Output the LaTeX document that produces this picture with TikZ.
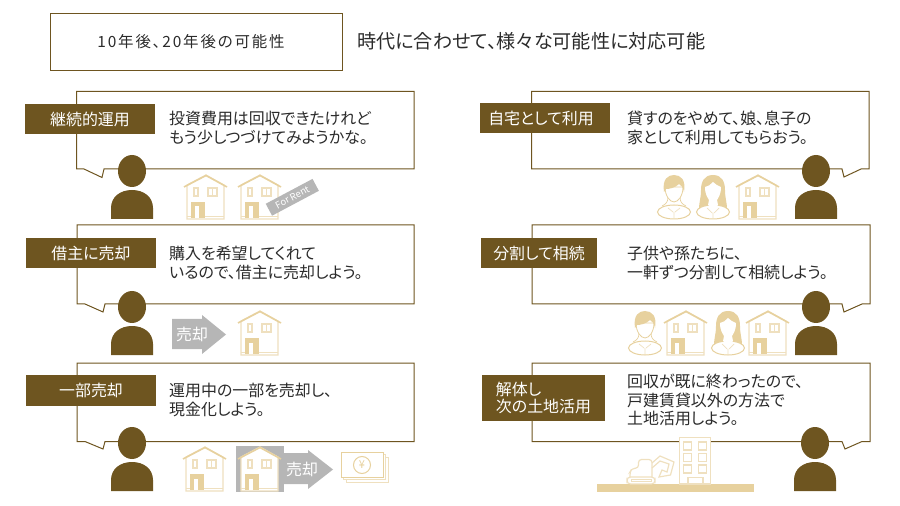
\documentclass[tikz,border=0pt]{standalone}
\usepackage{fontspec}
\setmainfont[RawFeature={+palt}]{Noto Sans CJK JP}

\definecolor{darkbrown}{HTML}{6E5520}
\definecolor{paletan}{HTML}{EFE0BF}
\definecolor{midtan}{HTML}{E7D19E}
\definecolor{signgrey}{HTML}{B6B6B6}
\definecolor{bodyink}{HTML}{2B2B2B}

\tikzset{
    bubbleline/.style={draw=darkbrown, line width=1bp, fill=white},
    tagbox/.style={fill=darkbrown, text=white, inner sep=0pt, font=\fontsize{16}{18}\selectfont},
    bodytext/.style={anchor=west, inner sep=0pt, align=left, text=bodyink, font=\fontsize{16}{18.7}\selectfont},
    selltext/.style={inner sep=0pt, text=white, font=\fontsize{16}{18}\selectfont},
    pics/person/.style={code={
        \fill[darkbrown] (0,16) ellipse [x radius=14, y radius=16];
        \fill[darkbrown] (-21,64) -- (-21,53) .. controls (-21,42) and (-12,35) .. (0,35)
            .. controls (12,35) and (21,42) .. (21,53) -- (21,64) -- cycle;
    }},
    pics/house/.style={code={
        \filldraw[fill=white, draw=paletan, line width=1.2bp] (-19,44) -- (-19,10) -- (0,0) -- (18,10) -- (18,44) -- cycle;
        \draw[paletan, line width=1bp] (-19,41.5) -- (18,41.5);
        \draw[midtan, line width=1.6bp] (-22,12) -- (0,0.5) -- (21,12);
        \fill[midtan] (-15,27) rectangle (-1,43);
        \fill[white] (-11.5,31.5) rectangle (-7.5,43);
        \draw[paletan, line width=1.2bp] (-12,13) rectangle (-8,21);
        \draw[paletan, line width=1.2bp] (2,13) rectangle (11,21) (6.5,13) -- (6.5,21);
    }},
    pics/man/.style={code={
        \filldraw[fill=white, draw=midtan, line width=1bp] (0,37) ellipse [x radius=16.5, y radius=7];
        \draw[midtan, line width=0.7bp] (-6,22) .. controls (-6,27) and (-8,29) .. (-12,31);
        \draw[midtan, line width=0.7bp] (6,22) .. controls (6,27) and (8,29) .. (12,31);
        \filldraw[fill=white, draw=midtan, line width=0.8bp] (-9,12) .. controls (-9,21) and (-4,27) .. (0,27)
            .. controls (4,27) and (9,21) .. (9,12) -- cycle;
        \fill[midtan] (-10,17) .. controls (-12,4) and (-6,0) .. (0,0) .. controls (7,0) and (12,5) .. (10,17)
            .. controls (9,12) and (7,10) .. (5,9) .. controls (1,13) and (-5,14) .. (-8,14) -- cycle;
        \draw[paletan, line width=0.7bp] (-6,33) -- (-1,37) (6,33) -- (1,37) (0,37) -- (0,43);
    }},
    pics/woman/.style={code={
        \fill[midtan] (0,0) .. controls (-9,0) and (-12,7) .. (-12,15) .. controls (-12,23) and (-14,28) .. (-14,33)
            -- (14,33) .. controls (14,28) and (12,23) .. (12,15) .. controls (12,7) and (9,0) .. (0,0) -- cycle;
        \filldraw[fill=white, draw=midtan, line width=1bp] (0,37) ellipse [x radius=16.5, y radius=7];
        \fill[white] (-8,12) .. controls (-8,20) and (-5,23) .. (-4,25) -- (-5,30) -- (0,35) -- (5,30) -- (4,25)
            .. controls (5,23) and (8,20) .. (8,12) .. controls (5,11) and (2,9) .. (0,7) .. controls (-2,10) and (-5,11) .. (-8,12) -- cycle;
        \draw[paletan, line width=0.7bp] (-6,33) -- (-1,38) (6,33) -- (1,38) (0,38) -- (0,43);
    }}
}

\begin{document}
\begin{tikzpicture}[x=1bp, y=-1bp]
    \useasboundingbox (0,0) rectangle (900,506);

    % Heading.
    \node[draw=darkbrown, line width=1bp, minimum width=291bp, minimum height=57bp, inner sep=0pt] (headbox) at (196.5,42.5) {};
    \node[inner sep=0pt, text=bodyink, font=\fontsize{15.5}{18}\selectfont\addfontfeature{LetterSpace=12}] (headtext) at (191,42) {10年後、20年後の可能性};
    \node[anchor=west, inner sep=0pt, text=bodyink, font=\fontsize{19.2}{22}\selectfont] (headnote) at (357,41) {時代に合わせて、様々な可能性に対応可能};

    % Bubbles on the left.
    \draw[bubbleline] (76.5,91.5) -- (414,91.5) -- (414,169) -- (104,169) -- (102,177.5) -- (84,169) -- (76.5,169) -- cycle;
    \draw[bubbleline] (77,225) -- (414,225) -- (414,304) -- (105,304) -- (103,312) -- (85,304) -- (77,304) -- cycle;
    \draw[bubbleline] (77,363) -- (414,363) -- (414,441.5) -- (105,441.5) -- (103,449) -- (85,441.5) -- (77,441.5) -- cycle;

    % Bubbles on the right.
    \draw[bubbleline] (531.5,91.5) -- (869,91.5) -- (869,169) -- (861,169) -- (844,177) -- (842,169) -- (531.5,169) -- cycle;
    \draw[bubbleline] (532,225) -- (870,225) -- (870,304) -- (862,304) -- (844,312) -- (842,304) -- (532,304) -- cycle;
    \draw[bubbleline] (532,363) -- (870,363) -- (870,441.5) -- (862,441.5) -- (845,449) -- (842,441.5) -- (532,441.5) -- cycle;

    % Tags.
    \node[tagbox, minimum width=130bp, minimum height=30bp] (tagkeep) at (90,119) {継続的運用};
    \node[tagbox, minimum width=130bp, minimum height=30bp] (tagtenant) at (91,253) {借主に売却};
    \node[tagbox, minimum width=130bp, minimum height=31bp] (tagpart) at (91,390.5) {一部売却};
    \node[tagbox, minimum width=130bp, minimum height=30bp] (taghome) at (545,118.5) {\hspace*{-8bp}自宅として利用};
    \node[tagbox, minimum width=116bp, minimum height=30bp] (tagsplit) at (539,253) {分割して相続};
    \node[tagbox, minimum width=123bp, minimum height=46bp, align=left] (tagclear) at (543.5,398) {解体し\\次の土地活用};

    % Words in the bubbles.
    \node[bodytext] (textkeep) at (169,128) {投資費用は回収できたけれど\\もう少しつづけてみようかな。};
    \node[bodytext] (texttenant) at (169,263) {購入を希望してくれて\\いるので、借主に売却しよう。};
    \node[bodytext] (textpart) at (169,400) {運用中の一部を売却し、\\現金化しよう。};
    \node[bodytext] (texthome) at (627,128) {貸すのをやめて、娘、息子の\\家として利用してもらおう。};
    \node[bodytext] (textsplit) at (627,263) {子供や孫たちに、\\一軒ずつ分割して相続しよう。};
    \node[bodytext] (textclear) at (627,400) {回収が既に終わったので、\\戸建賃貸以外の方法で\\土地活用しよう。};

    % People who speak.
    \pic at (132,155) {person};
    \pic at (132,291) {person};
    \pic at (132,427) {person};
    \pic at (816,155) {person};
    \pic at (816,291) {person};
    \pic at (815,427) {person};

    % Keep renting.
    \pic at (206,175) {house};
    \pic at (260,175) {house};
    \node[rotate=28, fill=signgrey, text=white, inner sep=0pt, minimum width=53bp, minimum height=13.5bp, font=\fontsize{9.5}{10}\selectfont] (forrent) at (292.3,197.3) {For Rent};

    % Sell to the tenant.
    \fill[signgrey] (172,319) -- (202,319) -- (202,315) -- (226,334.5) -- (202,354) -- (202,349) -- (172,349) -- cycle;
    \node[selltext] (sellone) at (192,334) {売却};
    \pic at (260,311) {house};

    % Sell a part.
    \pic at (205,447) {house};
    \fill[signgrey] (236,446) rectangle (284,492);
    \pic at (260,447) {house};
    \fill[signgrey] (284,453) -- (308,453) -- (308,450) -- (333,469.5) -- (308,489) -- (308,484) -- (284,484) -- cycle;
    \node[selltext] (selltwo) at (302,469) {売却};
    \filldraw[fill=white, draw=paletan, line width=1bp] (346,457) rectangle (388,482);
    \filldraw[fill=white, draw=paletan, line width=1bp] (343.5,454.5) rectangle (385.5,479.5);
    \filldraw[fill=white, draw=midtan, line width=1bp] (341,452) rectangle (383,477);
    \node[circle, draw=midtan, line width=1bp, minimum size=17bp, inner sep=0pt, text=midtan, font=\fontsize{11}{11}\selectfont] (yen) at (362,465) {¥};

    % Family at home.
    \pic at (674,175) {man};
    \pic at (713,175) {woman};
    \pic at (758,175) {house};

    % Family with split houses.
    \pic at (645,311) {man};
    \pic at (686,311) {house};
    \pic at (728,311) {woman};
    \pic at (768,311) {house};

    % Site with building and digger.
    \fill[midtan] (597,484) rectangle (754,492);
    \filldraw[fill=white, draw=paletan, line width=1.2bp] (679.5,437.5) rectangle (710.5,484);
    \foreach \rowy in {442,453.5,465} {
        \draw[paletan, line width=1.2bp] (683.5,\rowy) rectangle +(8,8);
        \draw[paletan, line width=1.2bp] (698.5,\rowy) rectangle +(8,8);
    }
    \draw[paletan, line width=1.2bp] (688,484) -- (688,477.5) -- (703,477.5) -- (703,484);
    \draw[paletan, line width=1.2bp, rounded corners=3bp] (652,477) -- (652,459.5) -- (638.5,459.5) -- (638.5,468) -- (632,468.5) -- (630,472) -- (630,477);
    \draw[paletan, line width=1.2bp] (652,463) -- (660,456) -- (674,462) -- (670.5,475) -- (659,477) -- (662,470) -- (667,472) -- (669,464) -- (660,461) -- (652,468);
    \draw[paletan, line width=1.2bp, rounded corners=3.5bp] (627,477) rectangle (655,484);
    \draw[paletan, line width=0.7bp] (631,479.5) rectangle (651,481.5);
\end{tikzpicture}
\end{document}
